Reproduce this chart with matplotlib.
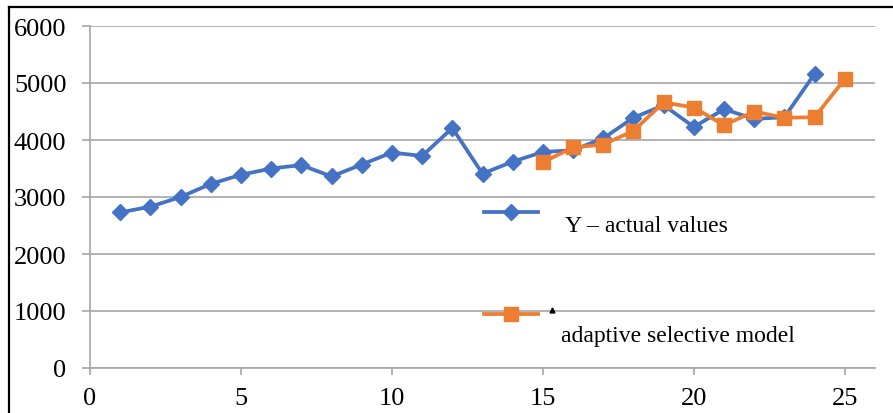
import matplotlib.pyplot as plt
from matplotlib.lines import Line2D

# -- DATA --
t_actual = list(range(1, 25))
y_actual = [2730, 2830, 3000, 3230, 3390, 3500, 3560, 3360, 3570, 3780, 3720, 4210,
            3410, 3620, 3790, 3820, 4030, 4390, 4610, 4230, 4540, 4370, 4400, 5160]
t_model = list(range(15, 26))
y_model = [3610, 3870, 3920, 4160, 4660, 4570, 4260, 4500, 4390, 4400, 5070]

label_actual = "Y \u2013 actual values"
label_model = "adaptive selective model"
# -- -- -- --

BLUE = "#4472C4"
ORANGE = "#ED7D31"
GRID = "#A6A6A6"
W, H = 893, 414

plt.rcParams['font.family'] = ['Liberation Serif', 'DejaVu Serif']

fig = plt.figure(figsize=(W / 100, H / 100), dpi=100)
ax = fig.add_axes([90 / W, 1 - 369 / H, (875 - 90) / W, (369 - 27) / H])

ax.plot(t_actual, y_actual, color=BLUE, lw=2.7, marker='D', ms=8, zorder=3)
ax.plot(t_model, y_model, color=ORANGE, lw=2.7, marker='s', ms=10.5, zorder=4)

ax.set_xlim(0, 26)
ax.set_ylim(0, 6000)
ax.set_xticks(range(0, 26, 5))
ax.set_yticks(range(0, 6001, 1000))
ax.yaxis.grid(True, color=GRID, lw=1.2)
ax.set_axisbelow(True)
for side in ('top', 'right'):
    ax.spines[side].set_visible(False)
for side in ('left', 'bottom'):
    ax.spines[side].set_color(GRID)
    ax.spines[side].set_linewidth(1.2)
ax.tick_params(axis='y', length=6, width=1.2, color=GRID, pad=11, labelsize=19)
ax.tick_params(axis='x', length=5, width=1.2, color=GRID, pad=9, labelsize=19)

# hand-placed legend entries
def fx(px):
    return px / W

def fy(py):
    return 1 - py / H

fig.add_artist(Line2D([fx(484), fx(538)], [fy(213), fy(213)], color=BLUE, lw=2.7,
                      transform=fig.transFigure))
fig.add_artist(Line2D([fx(511)], [fy(213)], color=BLUE, marker='D', ms=8, lw=0,
                      transform=fig.transFigure))
fig.text(fx(565), fy(227), label_actual, fontsize=17, va='center', ha='left')

fig.add_artist(Line2D([fx(484), fx(538)], [fy(315), fy(315)], color=ORANGE, lw=2.7,
                      transform=fig.transFigure))
fig.add_artist(Line2D([fx(511)], [fy(315)], color=ORANGE, marker='s', ms=10.5, lw=0,
                      transform=fig.transFigure))
fig.add_artist(Line2D([fx(552)], [fy(311)], color='black', marker='^', ms=3.5, lw=0,
                      transform=fig.transFigure))
fig.text(fx(561), fy(337), label_model, fontsize=17, va='center', ha='left')

# black frame along the top and left edges
fig.add_artist(Line2D([fx(9), fx(9)], [0, fy(8)], color='black', lw=1.6,
                      transform=fig.transFigure))
fig.add_artist(Line2D([fx(9), 1], [fy(8), fy(8)], color='black', lw=1.6,
                      transform=fig.transFigure))

fig.savefig("out.png", dpi=100)
